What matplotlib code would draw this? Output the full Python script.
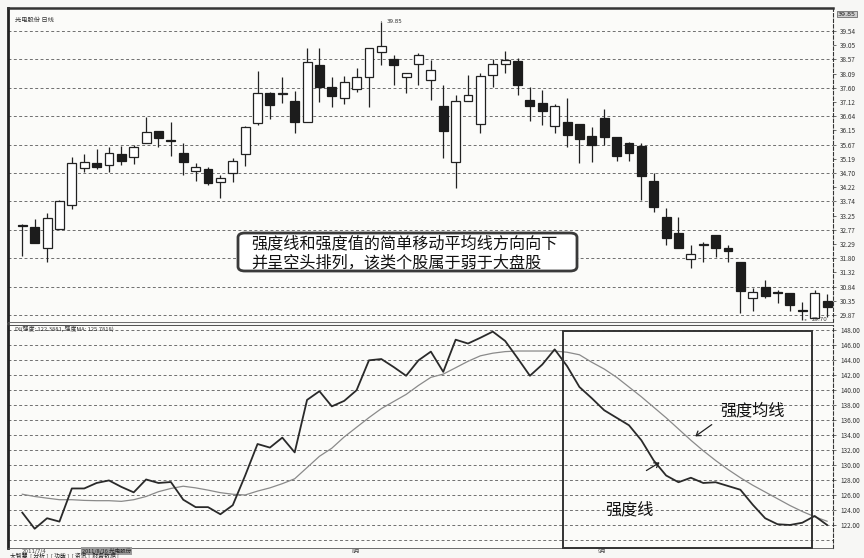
import numpy as np
import matplotlib
matplotlib.use('Agg')
import matplotlib.pyplot as plt
from matplotlib.patches import FancyBboxPatch, Rectangle, FancyArrowPatch

plt.rcParams['font.family'] = ['Noto Sans CJK SC', 'DejaVu Sans']

# ---------------- data ----------------
opens = [32.93, 32.87, 32.14, 32.79, 33.61, 34.86, 35.03, 34.97, 35.35, 35.26,
         35.71, 36.14, 35.82, 35.37, 34.78, 34.83, 34.40, 34.69, 35.34, 36.41,
         37.43, 37.39, 37.15, 36.45, 38.37, 37.64, 37.24, 37.55, 37.96, 38.81,
         38.57, 37.96, 38.41, 37.86, 36.98, 35.09, 37.16, 36.37, 38.04, 38.41,
         38.52, 37.19, 37.07, 36.30, 36.45, 36.37, 35.96, 36.56, 35.92, 35.73,
         35.63, 34.44, 33.21, 32.65, 31.77, 32.25, 32.59, 32.16, 31.66, 30.44,
         30.81, 30.65, 30.61, 30.04, 29.76, 30.36]
closes = [32.89, 32.33, 33.16, 33.76, 35.05, 35.07, 34.89, 35.39, 35.12, 35.58,
          36.11, 35.90, 35.78, 35.07, 34.92, 34.35, 34.54, 35.11, 36.28, 37.43,
          37.02, 37.42, 36.45, 38.47, 37.64, 37.32, 37.81, 37.96, 38.94, 39.02,
          38.38, 38.09, 38.72, 38.21, 36.14, 37.16, 37.36, 38.00, 38.40, 38.55,
          37.70, 36.98, 36.81, 36.98, 35.99, 35.85, 35.65, 35.94, 35.28, 35.39,
          34.60, 33.55, 32.48, 32.16, 31.93, 32.28, 32.16, 32.05, 30.69, 30.66,
          30.52, 30.62, 30.21, 29.99, 30.63, 30.13]
highs = [32.97, 33.13, 33.33, 33.78, 35.26, 35.35, 35.51, 35.60, 35.63, 35.65,
         36.60, 36.14, 36.42, 35.73, 35.03, 34.92, 34.63, 35.20, 36.30, 38.18,
         37.46, 37.98, 37.50, 38.94, 38.94, 37.98, 38.00, 38.26, 38.95, 39.85,
         38.72, 38.10, 38.77, 38.55, 37.70, 37.35, 38.04, 38.11, 38.57, 38.86,
         38.60, 37.62, 37.53, 37.05, 37.24, 36.37, 36.28, 36.88, 35.92, 35.77,
         35.71, 34.71, 33.50, 33.19, 32.25, 32.36, 32.59, 32.25, 31.66, 30.78,
         31.06, 30.72, 30.61, 30.32, 30.72, 30.58]
lows = [31.89, 32.32, 31.68, 32.78, 33.47, 34.74, 34.84, 34.74, 34.97, 35.00,
        35.71, 35.60, 35.28, 34.63, 34.43, 34.29, 33.84, 34.40, 34.94, 36.33,
        36.53, 37.07, 36.07, 36.45, 37.13, 36.94, 37.05, 37.47, 36.94, 38.37,
        37.70, 37.41, 37.70, 37.19, 35.20, 34.18, 37.16, 36.07, 37.64, 38.09,
        37.36, 36.48, 36.33, 36.07, 35.60, 35.03, 35.09, 35.65, 35.12, 35.12,
        33.78, 33.38, 32.25, 32.16, 31.46, 31.68, 31.85, 31.68, 29.93, 30.02,
        30.44, 30.27, 30.02, 29.70, 29.76, 29.81]

strength = [123.65, 121.5, 122.9, 122.45, 126.87, 126.87, 127.6, 127.94, 127.08, 126.35,
            128.07, 127.6, 127.73, 125.37, 124.38, 124.38, 123.43, 124.64, 128.59, 132.8,
            132.32, 133.65, 131.68, 138.68, 139.84, 137.82, 138.55, 139.97, 143.96, 144.13,
            143.06, 141.9, 143.96, 145.12, 142.42, 146.71, 146.2, 146.97, 147.79, 146.54,
            144.26, 141.9, 143.4, 145.42, 143.19, 140.4, 138.9, 137.3, 136.3, 135.3,
            133.3, 130.6, 128.6, 127.7, 128.3, 127.6, 127.7, 127.2, 126.7, 124.7,
            122.9, 122.1, 122.0, 122.3, 123.2, 122.0]
strength_ma = [126.1, 125.8, 125.58, 125.37, 125.37, 125.28, 125.24, 125.24, 125.15, 125.37,
               125.8, 126.44, 126.87, 127.17, 126.95, 126.65, 126.31, 126.1, 126.0, 126.52,
               126.95, 127.51, 128.16, 129.66, 131.16, 132.24, 133.74, 135.03, 136.32, 137.52,
               138.47, 139.41, 140.61, 141.69, 142.12, 142.97, 143.83, 144.56, 144.91, 145.12,
               145.2, 145.2, 145.2, 145.2, 145.04, 144.7, 143.7, 142.8, 141.7, 140.4,
               139.1, 137.7, 136.3, 134.8, 133.3, 131.9, 130.6, 129.4, 128.3, 127.3,
               126.4, 125.5, 124.6, 123.8, 123.1, 122.5]

price_grid = [29.87 + 0.9665 * k for k in range(11)]
price_ticks = [29.87 + 0.48325 * k for k in range(21)]
ind_grid = list(range(120, 149, 2))
ind_ticks = list(range(122, 149, 2))

title_text = '光电股份 日线'
ind_header = 'DI(强度: 122.3881, 强度MA: 125.7818)'
note_line1 = '强度线和强度值的简单移动平均线方向向下'
note_line2 = '并呈空头排列，该类个股属于弱于大盘股'
label_ma = '强度均线'
label_line = '强度线'

# ---------------- figure ----------------
W, H = 864, 558
fig = plt.figure(figsize=(W / 100, H / 100), dpi=100)
fig.patch.set_facecolor('#f7f7f5')

def fx(x):
    return x / W

def fy(y):
    return 1 - y / H

ax = fig.add_axes([fx(8), fy(322), fx(833) - fx(8), fy(8) - fy(322)])
ax2 = fig.add_axes([fx(8), fy(548), fx(833) - fx(8), fy(325) - fy(548)], sharex=ax)

n = len(opens)
x = np.arange(n)
gcol = '#6f6f6f'

for a in (ax, ax2):
    a.set_facecolor('#fbfbf9')
    a.yaxis.tick_right()
    a.tick_params(axis='y', labelsize=4.6, colors='#333', length=2, width=0.5, pad=3)
    a.tick_params(axis='x', bottom=False, labelbottom=False)
    a.spines['left'].set_linewidth(2.0)
    a.spines['left'].set_color('#222')
    a.spines['right'].set_linewidth(0.8)
    a.spines['right'].set_linestyle((0, (3, 2)))
    a.spines['right'].set_color('#333')
    a.spines['top'].set_color('#333')
    a.spines['bottom'].set_color('#555')
    a.spines['bottom'].set_linewidth(0.6)

ax.spines['top'].set_linewidth(1.8)
ax2.spines['top'].set_linewidth(0.6)

ax.set_xlim(-1.155, 65.48)
ax.set_ylim(29.63, 40.316)
ax.set_yticks(price_ticks)
ax.set_yticklabels(['%.2f' % t for t in price_ticks])
for g in price_grid:
    ax.axhline(g, color=gcol, lw=0.7, ls=(0, (3, 2.5)), zorder=0)

# candles
bw = 0.72
for i in range(n):
    o, c, h, l = opens[i], closes[i], highs[i], lows[i]
    top = max(o, c)
    bot = min(o, c)
    ax.vlines(x[i], l, h, color='#222', lw=0.9, zorder=2)
    hgt = max(top - bot, 0.03)
    if c >= o:
        ax.bar(x[i], hgt, bottom=bot, width=bw, facecolor='white', edgecolor='#222', lw=0.9, zorder=3)
    else:
        ax.bar(x[i], hgt, bottom=bot, width=bw, facecolor='#1c1c1c', edgecolor='#1c1c1c', lw=0.9, zorder=3)

imax = int(np.argmax(highs))
imin = int(np.argmin(lows))
ax.annotate('%.2f' % highs[imax], xy=(x[imax], highs[imax]), xytext=(x[imax] + 0.45, highs[imax]),
            fontsize=4, color='#333', va='center', ha='left', family='DejaVu Sans',
            arrowprops=dict(arrowstyle='-', color='#333', lw=0.7))
ax.annotate('%.2f' % lows[imin], xy=(x[imin], lows[imin]), xytext=(x[imin] + 0.75, lows[imin]),
            fontsize=4, color='#333', va='center', ha='left', family='DejaVu Sans',
            arrowprops=dict(arrowstyle='-', color='#333', lw=0.7))

# top-right boxed max label
fig.text(fx(838), fy(14), '%.2f' % highs[imax], fontsize=4.6, color='#222', va='center', ha='left',
         family='DejaVu Sans', bbox=dict(boxstyle='square,pad=0.15', fc='#cfcfcf', ec='#555', lw=0.5))

# indicator panel
ax2.set_ylim(118.93, 148.67)
ax2.set_yticks(ind_ticks)
ax2.set_yticklabels(['%.2f' % t for t in ind_ticks])
for g in ind_grid:
    ax2.axhline(g, color=gcol, lw=0.7, ls=(0, (3, 2.5)), zorder=0)
ax2.plot(x, strength_ma, color='#8a8a8a', lw=0.9, zorder=3)
ax2.plot(x, strength, color='#2a2a2a', lw=1.3, zorder=4)

# highlight rectangle in indicator panel
rect = Rectangle((fx(563), fy(548)), fx(812) - fx(563), fy(331) - fy(548), transform=fig.transFigure,
                 fill=False, ec='#333', lw=1.4, zorder=10)
fig.add_artist(rect)

# small texts
fig.text(fx(15), fy(20), title_text, fontsize=4.5, color='#333', va='center', ha='left')
fig.text(fx(15), fy(329), ind_header, fontsize=4.2, color='#333', va='center', ha='left')
fig.text(fx(22), fy(551), '2011/7/4', fontsize=4, color='#444', va='center', ha='left', family='DejaVu Sans')
fig.text(fx(82), fy(551), '2011/8/16 光电股份', fontsize=4, color='#222', va='center', ha='left',
         bbox=dict(boxstyle='square,pad=0.1', fc='#9a9a9a', ec='none'))
fig.text(fx(352), fy(551), '8月', fontsize=4, color='#444', va='center', ha='left')
fig.text(fx(598), fy(551), '9月', fontsize=4, color='#444', va='center', ha='left')
fig.text(fx(10), fy(556), '大智慧  [ 分析 ]  [ 功能 ]  [ 资讯 ]  财务数据 [', fontsize=4.2, color='#222',
         va='center', ha='left')

# main note box
box = FancyBboxPatch((fx(238), fy(271)), fx(577) - fx(238), fy(233) - fy(271),
                     boxstyle='round,pad=0,rounding_size=0.008', transform=fig.transFigure,
                     fc='white', ec='#3a3a3a', lw=2.0, zorder=20)
fig.add_artist(box)
fig.text(fx(251), fy(243.5), note_line1, fontsize=11.6, color='#111', va='center', ha='left', zorder=21)
fig.text(fx(251), fy(262.5), note_line2, fontsize=11.6, color='#111', va='center', ha='left', zorder=21)

# line labels
fig.text(fx(720), fy(411), label_ma, fontsize=11.6, color='#111', va='center', ha='left')
fig.text(fx(605), fy(510), label_line, fontsize=11.6, color='#111', va='center', ha='left')
fig.add_artist(FancyArrowPatch((fx(714), fy(423)), (fx(693), fy(438)), transform=fig.transFigure,
                               arrowstyle='->,head_length=3,head_width=2', color='#222', lw=0.9))
fig.add_artist(FancyArrowPatch((fx(644), fy(472)), (fx(662), fy(461)), transform=fig.transFigure,
                               arrowstyle='->,head_length=3,head_width=2', color='#222', lw=0.9))

fig.savefig('out.png', dpi=100, facecolor=fig.get_facecolor())
